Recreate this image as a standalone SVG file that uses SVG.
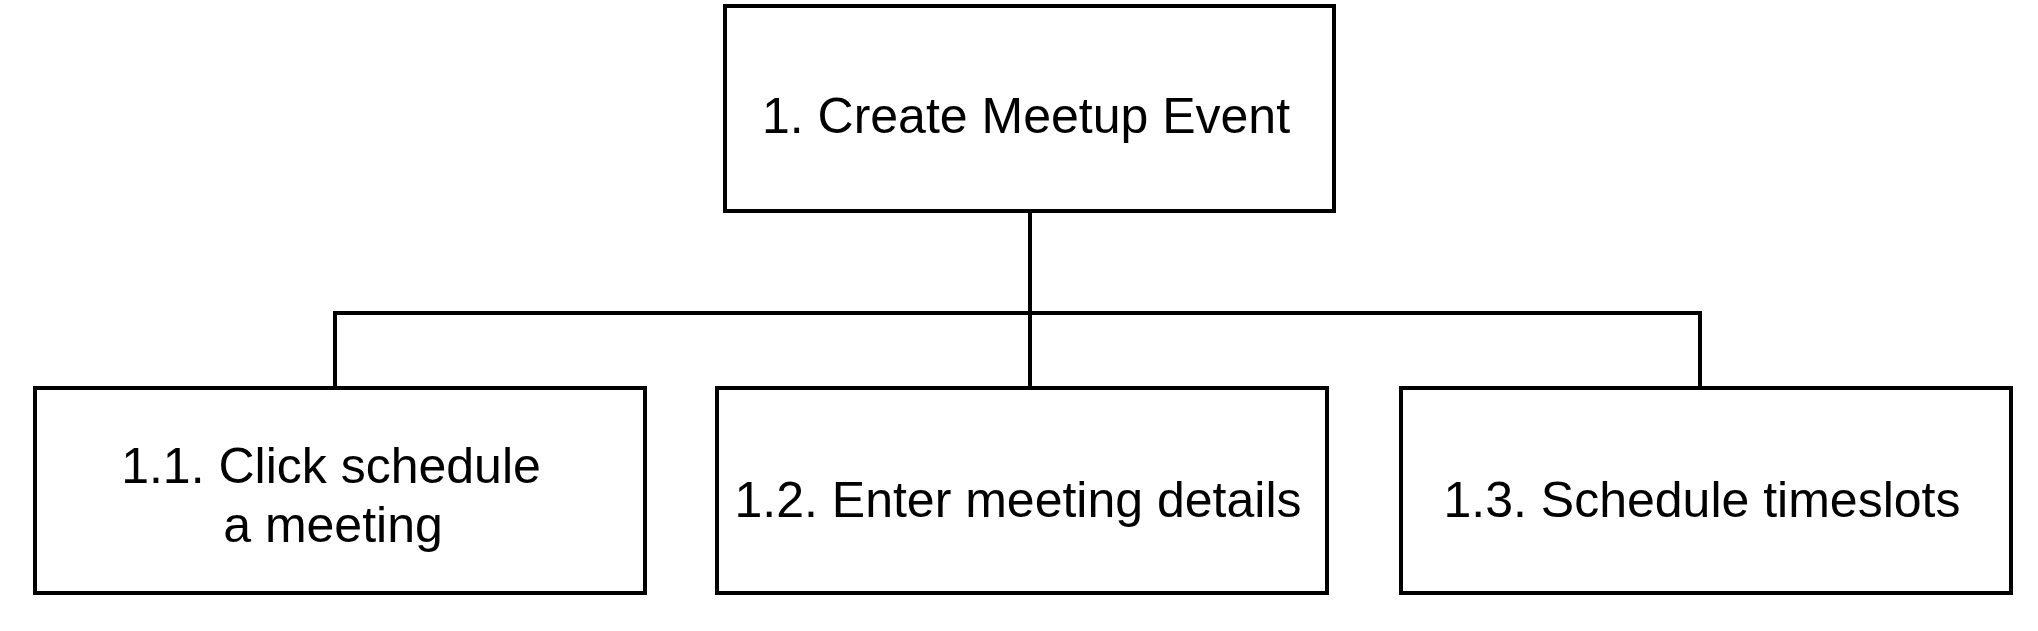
<svg xmlns="http://www.w3.org/2000/svg" width="2038" height="631" viewBox="0 0 2038 631">
<style>
.box{fill:#fff;stroke:#000;stroke-width:4}
.lbl{font-family:"Liberation Sans",Arial,sans-serif;font-size:50px;fill:#000;text-anchor:middle}
.conn{fill:none;stroke:#000;stroke-width:4}
</style>
<rect width="2038" height="631" fill="#fff"/>
<g id="connectors">
<path class="conn" d="M1030 211 V313"/>
<path class="conn" d="M335 388 V313 H1700 V388"/>
<path class="conn" d="M1030 313 V388"/>
</g>
<g id="n1">
<rect class="box" x="725" y="6" width="609" height="205"/>
<text class="lbl" x="1026" y="133">1. Create Meetup Event</text>
</g>
<g id="n11">
<rect class="box" x="35" y="388" width="610" height="205"/>
<text class="lbl" x="331" y="483">1.1. Click schedule</text>
<text class="lbl" x="333" y="542">a meeting</text>
</g>
<g id="n12">
<rect class="box" x="717" y="388" width="610" height="205"/>
<text class="lbl" x="1018" y="517">1.2. Enter meeting details</text>
</g>
<g id="n13">
<rect class="box" x="1401" y="388" width="610" height="205"/>
<text class="lbl" x="1702" y="517">1.3. Schedule timeslots</text>
</g>
</svg>
